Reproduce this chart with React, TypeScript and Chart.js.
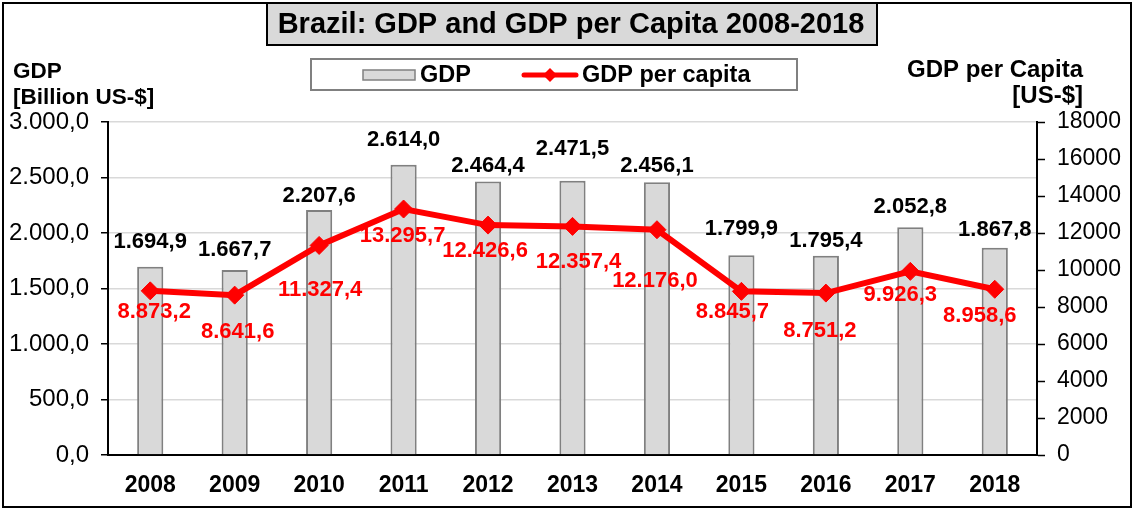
import React, { useEffect, useRef } from "react";
import { Chart, registerables } from "chart.js";

Chart.register(...registerables);

const years = ["2008", "2009", "2010", "2011", "2012", "2013", "2014", "2015", "2016", "2017", "2018"];
const gdp = [1694.9, 1667.7, 2207.6, 2614.0, 2464.4, 2471.5, 2456.1, 1799.9, 1795.4, 2052.8, 1867.8];
const gdpPerCapita = [8873.2, 8641.6, 11327.4, 13295.7, 12426.6, 12357.4, 12176.0, 8845.7, 8751.2, 9926.3, 8958.6];

// label placement tweaks (relative to the marks)
const gdpLabelLift = [25, 20, 14, 25, 16, 32, 16, 26, 15, 20, 18];
const pcLabelDx = [4, 3, 1, -1, -3, 6, -2, -9, -6, -10, -15];
const pcLabelDy = [21, 37, 44, 27, 26, 36, 51, 21, 38, 24, 27];

const FONT = "'Liberation Sans', Arial, sans-serif";
const W = 1134;
const H = 509;

function fmt(v: number, dec: number): string {
  const fixed = Math.abs(v).toFixed(dec);
  const [intPart, decPart] = fixed.split(".");
  const withSep = intPart.replace(/\B(?=(\d{3})+(?!\d))/g, ".");
  return (v < 0 ? "-" : "") + withSep + (decPart !== undefined ? "," + decPart : "");
}

const decorPlugin = {
  id: "decor",
  beforeDraw(chart: any) {
    const ctx = chart.ctx;
    ctx.save();
    ctx.fillStyle = "#ffffff";
    ctx.fillRect(0, 0, chart.width, chart.height);
    ctx.restore();
  },
  afterDraw(chart: any) {
    const ctx = chart.ctx;
    ctx.save();

    // outer frame
    ctx.strokeStyle = "#000";
    ctx.lineWidth = 2;
    ctx.strokeRect(3, 3, 1128, 504);

    // title box
    ctx.fillStyle = "#d9d9d9";
    ctx.fillRect(267, 3, 610, 42);
    ctx.strokeStyle = "#000";
    ctx.lineWidth = 2;
    ctx.strokeRect(267, 3, 610, 42);
    ctx.fillStyle = "#000";
    ctx.font = `bold 29px ${FONT}`;
    ctx.textAlign = "center";
    ctx.textBaseline = "middle";
    ctx.fillText("Brazil: GDP and GDP per Capita 2008-2018", 571, 25);

    // legend
    ctx.strokeStyle = "#808080";
    ctx.lineWidth = 2;
    ctx.strokeRect(311, 59, 486, 31);
    ctx.fillStyle = "#d9d9d9";
    ctx.fillRect(363, 70, 52, 10);
    ctx.strokeStyle = "#808080";
    ctx.lineWidth = 1.5;
    ctx.strokeRect(363, 70, 52, 10);
    ctx.fillStyle = "#000";
    ctx.font = `bold 23.5px ${FONT}`;
    ctx.textAlign = "left";
    ctx.textBaseline = "middle";
    ctx.fillText("GDP", 420, 76);
    ctx.strokeStyle = "#ff0000";
    ctx.lineWidth = 5;
    ctx.lineCap = "round";
    ctx.beginPath();
    ctx.moveTo(524, 75);
    ctx.lineTo(576, 75);
    ctx.stroke();
    ctx.fillStyle = "#ff0000";
    ctx.beginPath();
    ctx.moveTo(550 - 7, 75);
    ctx.lineTo(550, 75 - 7);
    ctx.lineTo(550 + 7, 75);
    ctx.lineTo(550, 75 + 7);
    ctx.closePath();
    ctx.fill();
    ctx.fillStyle = "#000";
    ctx.fillText("GDP per capita", 582, 76);

    // axis titles
    ctx.font = `bold 22.5px ${FONT}`;
    ctx.textAlign = "left";
    ctx.fillText("GDP", 13, 72);
    ctx.fillText("[Billion US-$]", 13, 98);
    ctx.font = `bold 24px ${FONT}`;
    ctx.textAlign = "right";
    ctx.fillText("GDP per Capita", 1083, 70);
    ctx.fillText("[US-$]", 1083, 96);

    // data labels
    const barMeta = chart.getDatasetMeta(1);
    const lineMeta = chart.getDatasetMeta(0);
    ctx.font = `bold 22px ${FONT}`;
    ctx.textAlign = "center";
    ctx.textBaseline = "middle";
    ctx.fillStyle = "#000";
    barMeta.data.forEach((el: any, i: number) => {
      ctx.fillText(fmt(gdp[i], 1), el.x, el.y - gdpLabelLift[i]);
    });
    ctx.fillStyle = "#ff0000";
    lineMeta.data.forEach((el: any, i: number) => {
      ctx.fillText(fmt(gdpPerCapita[i], 1), el.x + pcLabelDx[i], el.y + pcLabelDy[i]);
    });

    ctx.restore();
  },
};

export default function App() {
  const ref = useRef<HTMLCanvasElement | null>(null);

  useEffect(() => {
    if (!ref.current) return;
    const chart = new Chart(ref.current, {
      type: "bar",
      data: {
        labels: years,
        datasets: [
          {
            type: "line",
            label: "GDP per capita",
            data: gdpPerCapita,
            yAxisID: "y2",
            borderColor: "#ff0000",
            backgroundColor: "#ff0000",
            borderWidth: 6,
            pointStyle: "rectRot",
            pointRadius: 9,
            pointBorderWidth: 1,
            pointBackgroundColor: "#ff0000",
            pointBorderColor: "#ff0000",
            tension: 0,
            order: 0,
          } as any,
          {
            type: "bar",
            label: "GDP",
            data: gdp,
            yAxisID: "y",
            backgroundColor: "#d9d9d9",
            borderColor: "#808080",
            borderWidth: 2,
            barPercentage: 0.31,
            categoryPercentage: 1,
            order: 1,
          } as any,
        ],
      },
      options: {
        responsive: false,
        animation: false,
        layout: { padding: { top: 122, left: 0, right: 0, bottom: 0 } },
        plugins: {
          legend: { display: false },
          title: { display: false },
          tooltip: { enabled: false },
        },
        scales: {
          x: {
            offset: true,
            grid: { drawOnChartArea: false, drawTicks: false },
            border: { color: "#000", width: 2 },
            ticks: {
              color: "#000",
              font: { family: FONT, size: 23, weight: "bold" },
              padding: 17,
            },
            afterFit(scale: any) {
              scale.height = H - 455;
            },
          },
          y: {
            position: "left",
            min: 0,
            max: 3000,
            grid: {
              color: "#d9d9d9",
              lineWidth: 1.5,
              tickColor: "#000",
              tickLength: 7,
              tickWidth: 1.5,
            },
            border: { color: "#000", width: 2 },
            ticks: {
              stepSize: 500,
              color: "#000",
              padding: 12,
              font: { family: FONT, size: 24 },
              callback: (v: any) => fmt(Number(v), 1),
            },
            afterFit(scale: any) {
              scale.width = 108;
            },
          },
          y2: {
            position: "right",
            min: 0,
            max: 18000,
            grid: {
              drawOnChartArea: false,
              tickColor: "#000",
              tickLength: 8,
              tickWidth: 1.5,
            },
            border: { color: "#000", width: 2 },
            ticks: {
              stepSize: 2000,
              color: "#000",
              padding: 12,
              font: { family: FONT, size: 23 },
              callback: (v: any) => String(v),
            },
            afterFit(scale: any) {
              scale.width = W - 1037;
            },
          },
        },
      } as any,
      plugins: [decorPlugin],
    });
    return () => chart.destroy();
  }, []);

  return (
    <div style={{ position: "fixed", left: 0, top: 0, width: W, height: H, background: "#fff" }}>
      <canvas ref={ref} width={W} height={H} style={{ display: "block", width: W, height: H }} />
    </div>
  );
}
